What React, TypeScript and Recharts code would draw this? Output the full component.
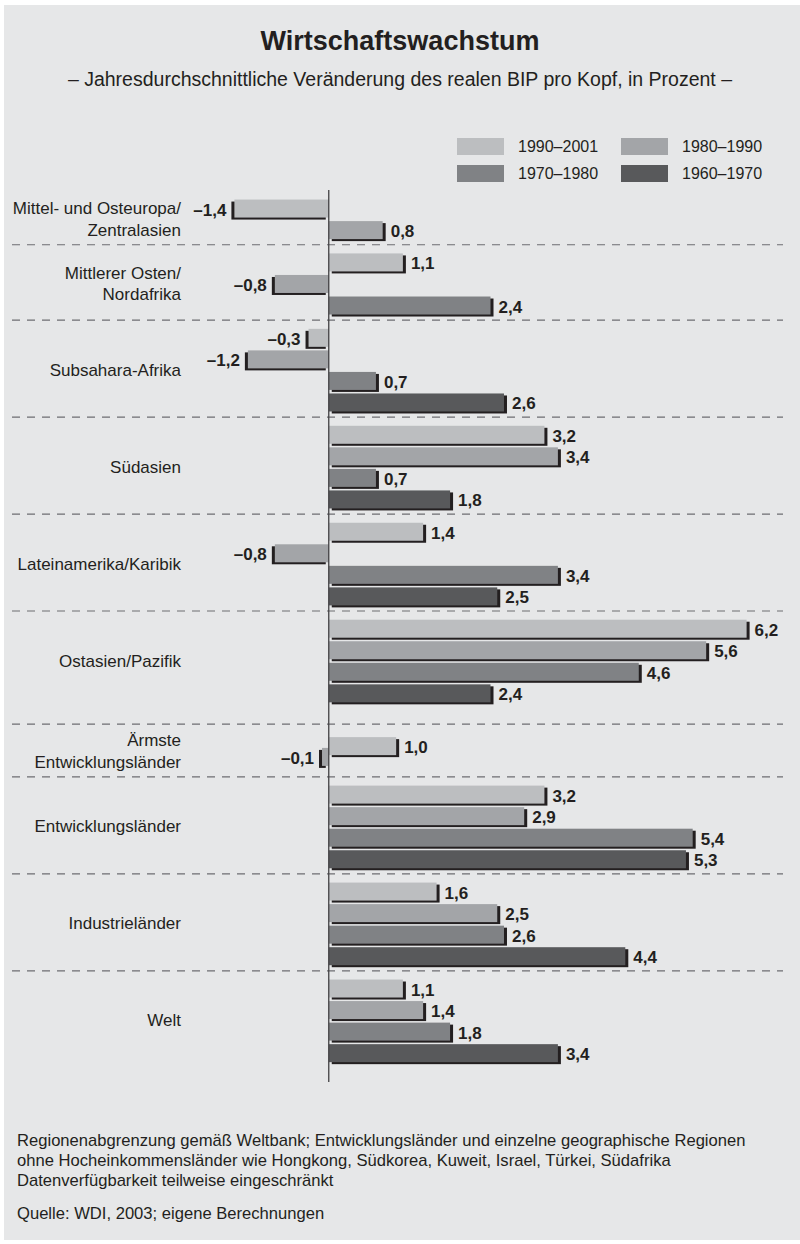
import { BarChart, Bar, XAxis, YAxis, Cell, LabelList, ReferenceLine } from "recharts";

const REGIONS: string[][] = [
  ["Mittel- und Osteuropa/", "Zentralasien"],
  ["Mittlerer Osten/", "Nordafrika"],
  ["Subsahara-Afrika"],
  ["Südasien"],
  ["Lateinamerika/Karibik"],
  ["Ostasien/Pazifik"],
  ["Ärmste", "Entwicklungsländer"],
  ["Entwicklungsländer"],
  ["Industrieländer"],
  ["Welt"],
];

const PERIODS = ["1990–2001", "1980–1990", "1970–1980", "1960–1970"];

const V_1990_2001 = [-1.4, 1.1, -0.3, 3.2, 1.4, 6.2, 1.0, 3.2, 1.6, 1.1];
const V_1980_1990 = [0.8, -0.8, -1.2, 3.4, -0.8, 5.6, -0.1, 2.9, 2.5, 1.4];
const V_1970_1980 = [null, 2.4, 0.7, 0.7, 3.4, 4.6, null, 5.4, 2.6, 1.8];
const V_1960_1970 = [null, null, 2.6, 1.8, 2.5, 2.4, null, 5.3, 4.4, 3.4];

const SERIES: (number | null)[][] = [V_1990_2001, V_1980_1990, V_1970_1980, V_1960_1970];

const COLORS = ["#bcbec0", "#a3a5a8", "#808285", "#58595b"];
const INK = "#231f20";
const PANEL = "#e6e7e8";
const FONT = "'Liberation Sans', Arial, Helvetica, sans-serif";

// vertical layout, in bar slots: gap before each group, step between its bars,
// and how far above the group's first bar the dashed separator sits
const GAP_BEFORE = [0, 1.5, 1.5, 1.5, 1.5, 1.5, 2.45, 1.75, 1.5, 1.5];
const STEP = [1, 1, 1, 1, 1, 1, 0.5, 1, 1, 1];
const SEP_ABOVE = [0, 0.8, 0.8, 0.8, 0.8, 0.8, 1.0, 0.8, 0.8, 0.8];
const LABEL_X = 181;
const BAR_H = 18;

type Row = { region: number; period: number; value: number; pos: number };

const rows: Row[] = [];
const centers: number[] = [];
const separators: number[] = [];
let last = 0;
REGIONS.forEach((_, g) => {
  const first = g === 0 ? 0 : last + GAP_BEFORE[g];
  if (g > 0) separators.push(first - SEP_ABOVE[g]);
  let pos = first;
  SERIES.forEach((vals, p) => {
    const v = vals[g];
    if (v == null) return;
    rows.push({ region: g, period: p, value: v, pos });
    last = pos;
    pos += STEP[g];
  });
  centers.push((first + last) / 2);
});

const fmt = (v: number) => (v < 0 ? "–" : "") + Math.abs(v).toFixed(1).replace(".", ",");

// bar with a dark drop shadow, offset outwards and down
const ShadowBar = (props: any) => {
  const { x, y, width, height, payload } = props;
  const left = Math.min(x, x + width);
  const w = Math.abs(width);
  const neg = payload && payload.value < 0;
  const fill = payload ? COLORS[payload.period] : props.fill;
  const top = y + height / 2 - BAR_H / 2;
  return (
    <g>
      <rect x={left + (neg ? -3 : 3)} y={top + 2} width={w} height={BAR_H} fill={INK} />
      <rect x={left} y={top} width={w} height={BAR_H} fill={fill} />
    </g>
  );
};

const ValueLabel = (props: any) => {
  const { x, y, width, height, value } = props;
  if (value == null) return null;
  const neg = value < 0;
  const end = neg ? Math.min(x, x + width) : Math.max(x, x + width);
  return (
    <text
      x={neg ? end - 8 : end + 8}
      y={y + height / 2 + 7}
      textAnchor={neg ? "end" : "start"}
      fontFamily={FONT}
      fontSize={17}
      fontWeight="bold"
      fill={INK}
    >
      {fmt(value)}
    </text>
  );
};

const RegionTick = (props: any) => {
  const { y, payload } = props;
  const idx = centers.findIndex((c) => Math.abs(c - payload.value) < 1e-6);
  const lines = REGIONS[idx] ?? [];
  const lh = 21.5;
  return (
    <g>
      {lines.map((l, i) => (
        <text
          key={i}
          x={LABEL_X}
          y={y + (i - (lines.length - 1) / 2) * lh + 6}
          textAnchor="end"
          fontFamily={FONT}
          fontSize={17}
          fill={INK}
        >
          {l}
        </text>
      ))}
    </g>
  );
};

const abs = (top: number, left: number, extra: any = {}) => ({
  position: "absolute" as const,
  top,
  left,
  whiteSpace: "nowrap" as const,
  ...extra,
});

export default function App() {
  const footer = [
    "Regionenabgrenzung gemäß Weltbank; Entwicklungsländer und einzelne geographische Regionen",
    "ohne Hocheinkommensländer wie Hongkong, Südkorea, Kuweit, Israel, Türkei, Südafrika",
    "Datenverfügbarkeit teilweise eingeschränkt",
  ];
  return (
    <div
      style={{
        position: "absolute",
        left: 0,
        top: 0,
        width: 800,
        height: 1244,
        background: "#ffffff",
        fontFamily: FONT,
        color: INK,
        overflow: "hidden",
      }}
    >
      <div style={{ position: "absolute", left: 4, top: 5, width: 796, height: 1235, background: PANEL }} />

      <div style={abs(28, 0, { width: 800, textAlign: "center", fontSize: 27, lineHeight: "27px", fontWeight: "bold" })}>
        Wirtschaftswachstum
      </div>
      <div style={abs(69.5, 0, { width: 800, textAlign: "center", fontSize: 19.5, lineHeight: "19.5px" })}>
        – Jahresdurchschnittliche Veränderung des realen BIP pro Kopf, in Prozent –
      </div>

      {PERIODS.map((p, i) => {
        const col = i % 2;
        const row = Math.floor(i / 2);
        const left = 457 + col * 164;
        const top = 138 + row * 26.5;
        return (
          <div key={p}>
            <div style={abs(top, left, { width: 47, height: 17, background: COLORS[i] })} />
            <div style={abs(top + 1.2, left + 61, { fontSize: 16, lineHeight: "16px" })}>{p}</div>
          </div>
        );
      })}

      <div style={{ position: "absolute", left: 0, top: 0 }}>
        <BarChart
          width={800}
          height={1100}
          data={rows}
          layout="vertical"
          margin={{ top: 190, right: 17, bottom: 18, left: 0 }}
        >
          <XAxis type="number" hide domain={[-4.7, 6.74]} allowDataOverflow />
          <YAxis
            type="number"
            dataKey="pos"
            domain={[-0.84, 40.56]}
            allowDataOverflow
            ticks={centers}
            interval={0}
            width={12}
            axisLine={false}
            tickLine={false}
            tick={<RegionTick />}
          />
          {separators.map((s, i) => (
            <ReferenceLine key={i} y={s} stroke="#6d6e71" strokeWidth={1.2} strokeDasharray="8 7" />
          ))}
          <Bar dataKey="value" barSize={BAR_H} shape={<ShadowBar />} isAnimationActive={false}>
            {rows.map((r, i) => (
              <Cell key={i} fill={COLORS[r.period]} />
            ))}
            <LabelList dataKey="value" content={<ValueLabel />} />
          </Bar>
          <ReferenceLine x={0} stroke="#414042" strokeWidth={1.3} />
        </BarChart>
      </div>

      {footer.map((t, i) => (
        <div key={i} style={abs(1133 + i * 20, 17, { fontSize: 16.6, lineHeight: "16.6px" })}>
          {t}
        </div>
      ))}
      <div style={abs(1206, 17, { fontSize: 16.6, lineHeight: "16.6px" })}>Quelle: WDI, 2003; eigene Berechnungen</div>
    </div>
  );
}
